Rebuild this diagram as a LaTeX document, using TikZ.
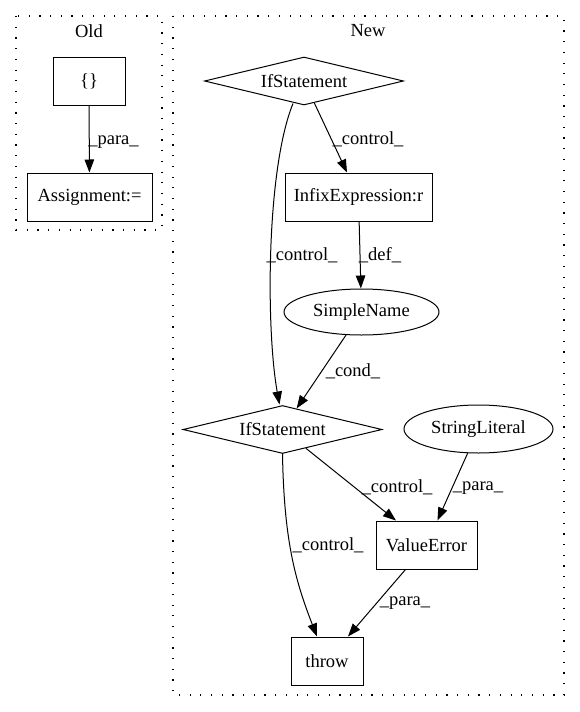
\documentclass[tikz,border=0pt]{standalone}
\usepackage{fontspec}
\setmainfont{Liberation Serif}
\usetikzlibrary{shapes.geometric,arrows.meta,calc}
\begin{document}
\begin{tikzpicture}[x=1pt,y=-1pt,
  every node/.style={font=\fontsize{18.5}{20}\selectfont, inner sep=0pt},
  cluster/.style={draw, line width=1.2pt, dash pattern=on 1.2pt off 9.5pt},
  boxnode/.style={draw, line width=1pt, rectangle},
  ellnode/.style={draw, line width=1pt, ellipse},
  dianode/.style={draw, line width=1pt, diamond, aspect=4.2},
  edge/.style={draw, line width=1pt, -{Triangle[length=13pt,width=9.5pt]}},
  lbl/.style={font=\fontsize{18.5}{20}\selectfont}]
\useasboundingbox (0,0) rectangle (580,712);
% clusters
\draw[cluster] (16,16) rectangle (162,230);
\draw[cluster] (173,16) rectangle (564,695);
\node (oldlbl) at (89,31) {Old};
\node (newlbl) at (368,31) {New};
% Old nodes
\node[boxnode, minimum width=72, minimum height=48] (br) at (89,81) {\{\}};
\node[boxnode, minimum width=125, minimum height=48] (asg) at (89.5,197) {Assignment:=};
% New nodes
\node[dianode, minimum width=199, minimum height=48] (if1) at (304,81) {IfStatement};
\node[boxnode, minimum width=147, minimum height=48] (inf) at (358.5,197) {InfixExpression:r};
\node[ellnode, minimum width=155, minimum height=46] (sn) at (361.5,312) {SimpleName};
\node[dianode, minimum width=199, minimum height=48] (if2) at (282.5,429.5) {IfStatement};
\node[ellnode, minimum width=149, minimum height=48] (sl) at (478.5,429) {StringLiteral};
\node[boxnode, minimum width=101, minimum height=48] (ve) at (426.5,545) {ValueError};
\node[boxnode, minimum width=72, minimum height=48] (thr) at (327,661) {throw};
% edges
\draw[edge] (br) -- (asg);
\node[lbl] (l0) at (113.5,142) {\_para\_};
\draw[edge] (if1) -- (inf);
\node[lbl] (l1) at (368,139) {\_control\_};
\draw[edge] (inf) -- (sn);
\node[lbl] (l2) at (380,255) {\_def\_};
\draw[edge] ($(if1.south)+(-11,-2)$) .. controls (266,170) and (266,330) .. ($(if2.north)+(-3,-0.5)$);
\node[lbl] (l3) at (302,255) {\_control\_};
\draw[edge] (sn) -- (if2);
\node[lbl] (l4) at (353,371) {\_cond\_};
\draw[edge] (if2) -- (ve);
\node[lbl] (l5) at (397,487) {\_control\_};
\draw[edge] (sl) -- (ve);
\node[lbl] (l6) at (478,488) {\_para\_};
\draw[edge] (if2.south) .. controls (284,540) and (295,580) .. ($(thr.north)+(-10,0)$);
\node[lbl] (l7) at (328,545) {\_control\_};
\draw[edge] (ve) -- (thr);
\node[lbl] (l8) at (405,603) {\_para\_};
\end{tikzpicture}
\end{document}
